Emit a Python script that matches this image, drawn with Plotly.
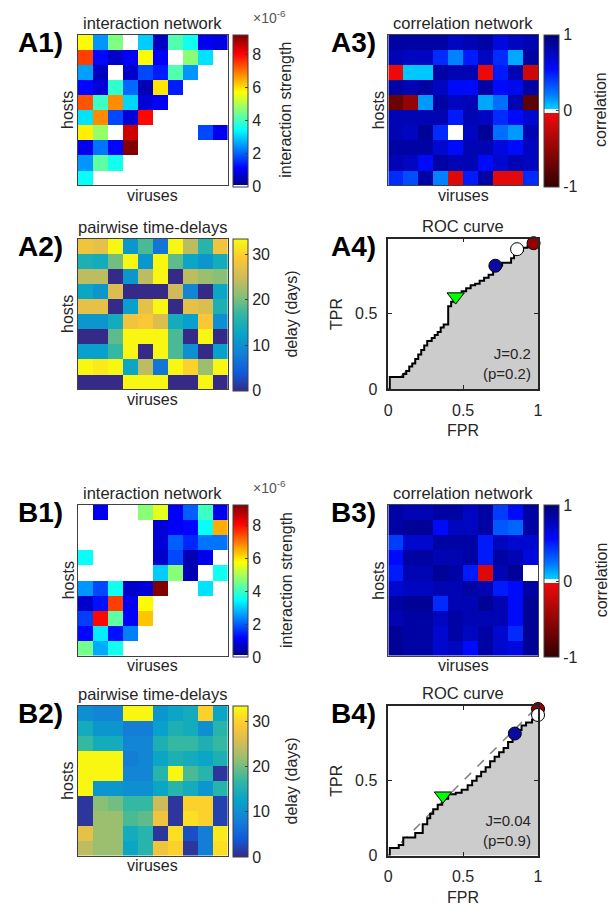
import plotly.graph_objects as go

W, H = 613, 918

# ---------------- data ----------------
A1_interaction = [  # x 1e-6, 0 = no interaction
    [5.8, 2.5, 4.6, 0, 3.0, 0.6, 4.2, 3.6, 1.0, 0.9],
    [7.5, 1.2, 0.7, 1.1, 5.8, 1.1, 0, 4.7, 3.2, 0],
    [2.6, 0.6, 0, 0.7, 1.8, 1.4, 4.2, 2.5, 0, 0],
    [1.2, 0.8, 3.9, 2.1, 0.5, 6.0, 1.4, 0, 0, 0],
    [7.3, 4.0, 6.8, 3.1, 0.8, 1.1, 0, 0, 0, 0],
    [3.2, 6.8, 1.8, 0.8, 8.0, 0, 0, 0, 0, 0],
    [5.9, 4.8, 0, 8.5, 0, 0, 0, 0, 1.8, 1.0],
    [1.0, 2.2, 1.2, 9.2, 0, 0, 0, 0, 0, 0],
    [2.5, 4.3, 3.6, 0, 0, 0, 0, 0, 0, 0],
    [3.5, 0, 0, 0, 0, 0, 0, 0, 0, 0],
]
A2_delay = [
    [28, 27, 33, 11, 18, 7, 33, 24, 16, 28],
    [15, 14, 20, 33, 11, 33, 19, 13, 11, 14],
    [24, 24, 0, 11, 24, 33, 0, 24, 22, 21],
    [13, 11, 26, 0, 0, 0, 25, 9, 0, 13],
    [27, 27, 0, 12, 27, 33, 0, 27, 26, 15],
    [11, 11, 14, 28, 29, 26, 14, 12, 29, 10],
    [0, 0, 19, 33, 33, 33, 18, 0, 33, 0],
    [12, 12, 17, 33, 0, 33, 18, 10, 0, 12],
    [33, 32, 33, 13, 24, 7, 33, 30, 22, 33],
    [0, 0, 0, 33, 33, 33, 0, 0, 33, 0],
]
A3_corr = [
    [0.85, 0.85, 0.85, 0.85, 0.75, 0.8, 0.85, 0.65, 0.75, 0.8],
    [0.8, 0.75, 0.75, 0.45, 0.2, 0.5, 0.75, 0.45, 0.12, 0.85],
    [-0.05, 0.05, 0.05, 0.85, 0.8, 0.8, -0.05, 0.5, 0.8, -0.2],
    [0.85, 0.8, 0.85, 0.75, 0.55, 0.55, 0.85, 0.55, 0.6, 0.85],
    [-0.7, -0.5, 0.15, 0.85, 0.75, 0.8, 0.12, 0.25, 0.8, -0.78],
    [0.8, 0.8, 0.8, 0.8, 0.5, 0.8, 0.75, 0.45, 0.55, 0.7],
    [0.8, 0.75, 0.9, 0.45, 0.0, 0.75, 0.9, 0.25, 0.15, 0.8],
    [0.85, 0.85, 0.85, 0.7, 0.55, 0.8, 0.8, 0.65, 0.55, 0.75],
    [0.8, 0.75, 0.55, 0.85, 0.8, 0.8, 0.55, 0.7, 0.8, 0.75],
    [0.45, 0.35, 0.85, 0.2, -0.12, 0.5, 0.85, -0.08, -0.08, 0.45],
]
B1_interaction = [
    [0, 1.0, 0, 0, 4.7, 5.5, 1.1, 2.0, 4.0, 1.0],
    [0, 0, 0, 0, 0, 0.8, 1.1, 1.2, 3.5, 6.5],
    [0, 0, 0, 0, 0, 0.8, 2.0, 1.5, 2.2, 2.2],
    [3.5, 0, 0, 0, 0, 0.7, 1.8, 0.5, 1.0, 0],
    [0, 0, 0, 0, 0, 3.0, 4.7, 0.5, 0, 3.6],
    [2.5, 1.8, 3.6, 0.7, 0.8, 9.2, 0, 0, 3.2, 0],
    [0.7, 1.3, 7.5, 1.1, 5.8, 0, 0, 0, 0, 0],
    [1.7, 8.0, 4.3, 1.1, 6.3, 0, 0, 0, 0, 0],
    [1.2, 3.3, 1.3, 2.3, 0, 0, 0, 0, 0, 0],
    [4.5, 2.7, 3.6, 0, 0, 0, 0, 0, 0, 0],
]
B2_delay = [
    [10, 9, 9, 33, 33, 11, 13, 14, 30, 13],
    [14, 11, 11, 8, 8, 12, 15, 14, 10, 16],
    [17, 14, 14, 9, 9, 15, 17, 17, 15, 17],
    [33, 33, 33, 8, 9, 13, 15, 14, 13, 15],
    [33, 33, 33, 9, 9, 16, 33, 18, 16, 1],
    [33, 11, 11, 10, 10, 13, 16, 14, 11, 16],
    [1, 21, 20, 17, 17, 25, 1, 30, 30, 2],
    [1, 22, 22, 18, 19, 28, 1, 31, 30, 2],
    [27, 22, 22, 14, 16, 1, 31, 3, 8, 32],
    [24, 22, 22, 13, 16, 28, 30, 1, 8, 31],
]
B3_corr = [
    [0.85, 0.8, 0.8, 0.85, 0.85, 0.75, 0.85, 0.4, 0.55, 0.85],
    [0.85, 0.9, 0.9, 0.55, 0.75, 0.75, 0.85, 0.32, 0.28, 0.85],
    [0.4, 0.7, 0.7, 0.85, 0.85, 0.85, 0.5, 0.75, 0.7, 0.7],
    [0.55, 0.85, 0.85, 0.8, 0.8, 0.85, 0.5, 0.85, 0.8, 0.65],
    [0.5, 0.8, 0.8, 0.9, 0.85, 0.5, -0.12, 0.8, 0.9, 0.0],
    [0.7, 0.75, 0.75, 0.8, 0.8, 0.85, 0.8, 0.5, 0.55, 0.85],
    [0.85, 0.9, 0.9, 0.45, 0.8, 0.8, 0.9, 0.8, 0.55, 0.9],
    [0.8, 0.85, 0.85, 0.75, 0.85, 0.8, 0.8, 0.8, 0.55, 0.9],
    [0.9, 0.85, 0.85, 0.7, 0.85, 0.75, 0.85, 0.7, 0.45, 0.9],
    [0.9, 0.85, 0.85, 0.7, 0.75, 0.55, 0.85, 0.7, 0.65, 0.9],
]

A4_fpr = [0, 0.01, 0.10, 0.12, 0.14, 0.16, 0.18, 0.20, 0.22, 0.24, 0.26, 0.29, 0.31, 0.33, 0.35,
          0.37, 0.40, 0.42, 0.44, 0.46, 0.49, 0.52, 0.55, 0.58, 0.61, 0.64, 0.67, 0.70, 0.73, 0.76,
          0.80, 0.82, 0.84, 0.87, 0.90, 0.93, 0.96, 1.0]
A4_tpr = [0, 0.08, 0.10, 0.12, 0.15, 0.17, 0.20, 0.23, 0.26, 0.29, 0.32, 0.34, 0.36, 0.38, 0.41,
          0.43, 0.55, 0.58, 0.61, 0.63, 0.65, 0.67, 0.69, 0.70, 0.72, 0.74, 0.76, 0.79, 0.82, 0.84,
          0.84, 0.87, 0.90, 0.92, 0.94, 0.95, 0.97, 1.0]
B4_fpr = [0, 0.01, 0.07, 0.10, 0.18, 0.23, 0.26, 0.28, 0.30, 0.33, 0.36, 0.40, 0.45, 0.49, 0.53,
          0.56, 0.59, 0.62, 0.65, 0.68, 0.71, 0.74, 0.77, 0.80, 0.83, 0.86, 0.89, 0.92, 0.96, 0.99, 1.0]
B4_tpr = [0, 0.05, 0.07, 0.12, 0.15, 0.21, 0.25, 0.28, 0.31, 0.34, 0.38, 0.41, 0.42, 0.44, 0.47,
          0.50, 0.53, 0.56, 0.59, 0.63, 0.66, 0.69, 0.72, 0.76, 0.80, 0.84, 0.87, 0.89, 0.91, 0.94, 1.0]

# markers: (fpr, tpr) for green triangle, blue, white, red
A4_markers = {"green": (0.45, 0.615), "blue": (0.715, 0.82), "white": (0.86, 0.93), "red": (0.97, 0.97)}
B4_markers = {"green": (0.365, 0.40), "blue": (0.845, 0.816), "white": (1.0, 0.94), "red": (1.0, 0.98)}
A4_stats = ["J=0.2", "(p=0.2)"]
B4_stats = ["J=0.04", "(p=0.9)"]

interaction_ticks = [0, 2, 4, 6, 8]
delay_ticks = [0, 10, 20, 30]
corr_ticks = [-1, 0, 1]
roc_xticks = [0, 0.5, 1]
roc_yticks = [0, 0.5]

# ---------------- styling ----------------
FONT = "Liberation Sans, Arial, Helvetica, sans-serif"
TXT = "#262626"

jet_white = [[0, "rgb(255,255,255)"], [0.0156, "rgb(255,255,255)"], [0.0156, "rgb(0,0,140)"],
             [0.125, "rgb(0,0,255)"], [0.375, "rgb(0,255,255)"], [0.625, "rgb(255,255,0)"],
             [0.875, "rgb(255,0,0)"], [1, "rgb(128,0,0)"]]
parula = ['#352a87', '#0f5cdd', '#1481d6', '#06a4ca', '#2eb7a4', '#87bf77', '#d1bb59', '#fec832', '#f9fb0e']
parula_cs = [[i / 8, c] for i, c in enumerate(parula)]
corr_cs = [[0, "rgb(50,0,0)"], [0.49, "rgb(240,10,10)"], [0.49, "rgb(255,255,255)"],
           [0.51, "rgb(255,255,255)"], [0.51, "rgb(0,205,255)"], [0.525, "rgb(0,200,255)"],
           [0.61, "rgb(0,120,255)"], [0.775, "rgb(0,10,250)"], [1, "rgb(0,0,120)"]]

def fx(px):
    return px / W

def fy(py):
    return 1 - py / H

# panel boxes in pixels: x0, y0, x1, y1
boxes = {
    "A1": (75, 35, 227, 187), "A2": (75, 241, 227, 393),
    "A3": (390, 35, 542, 187), "A4": (390, 241, 542, 393),
    "B1": (75, 510, 227, 662), "B2": (75, 713, 227, 864),
    "B3": (390, 510, 542, 662), "B4": (390, 713, 542, 864),
}
axis_id = {"A1": "", "A2": "2", "A3": "3", "A4": "4", "B1": "5", "B2": "6", "B3": "7", "B4": "8"}

fig = go.Figure()
annotations = []
layout = dict(width=W, height=H, margin=dict(l=0, r=0, t=0, b=0),
              paper_bgcolor="white", plot_bgcolor="white", showlegend=False,
              font=dict(family=FONT, size=16, color=TXT))

def ann(text, x, y, size=16, angle=0, xanchor="center", yanchor="middle", color=TXT, align="center"):
    annotations.append(dict(text=text, x=fx(x), y=fy(y), xref="paper", yref="paper",
                            showarrow=False, textangle=angle, xanchor=xanchor, yanchor=yanchor,
                            align=align, font=dict(family=FONT, size=size, color=color)))

def heat(name, z, cs, zmax, zmin, ticks, ticktext, cb_x, title, cb_label, cb_label_x):
    x0, y0, x1, y1 = boxes[name]
    aid = axis_id[name]
    fig.add_trace(go.Heatmap(
        z=z, x=list(range(10)), y=list(range(10)), colorscale=cs, zmin=zmin, zmax=zmax,
        xaxis="x" + aid, yaxis="y" + aid, hoverinfo="skip",
        colorbar=dict(x=fx(cb_x), xanchor="left", y=fy(y0), yanchor="top",
                      len=y1 - y0, lenmode="pixels", thickness=15, thicknessmode="pixels",
                      xpad=0, ypad=0, outlinewidth=1, outlinecolor="#404040",
                      tickvals=ticks, ticktext=ticktext, ticks="inside", ticklen=3,
                      tickcolor="#404040", tickfont=dict(family=FONT, size=16, color=TXT))))
    layout["xaxis" + aid] = dict(domain=[fx(x0), fx(x1)], anchor="y" + aid, range=[-0.5, 9.5],
                                 showticklabels=False, ticks="", showgrid=False, zeroline=False,
                                 showline=True, mirror=True, linecolor="#404040", linewidth=1)
    layout["yaxis" + aid] = dict(domain=[fy(y1), fy(y0)], anchor="x" + aid, range=[9.5, -0.5],
                                 showticklabels=False, ticks="", showgrid=False, zeroline=False,
                                 showline=True, mirror=True, linecolor="#404040", linewidth=1)
    ann(title, (x0 + x1) / 2, y0 - 12, size=16.5)
    ann("hosts", x0 - 10, (y0 + y1) / 2, angle=-90)
    ann("viruses", (x0 + x1) / 2, y1 + 10)
    ann(cb_label, cb_label_x, (y0 + y1) / 2, angle=-90)

def roc(name, fpr, tpr, markers, stats):
    x0, y0, x1, y1 = boxes[name]
    aid = axis_id[name]
    xa, ya = "x" + aid, "y" + aid
    fig.add_trace(go.Scatter(x=[0, 1], y=[0, 1], mode="lines", xaxis=xa, yaxis=ya,
                             line=dict(color="#808080", width=1.5, dash="dash"), hoverinfo="skip"))
    fig.add_trace(go.Scatter(x=fpr, y=tpr, mode="lines", xaxis=xa, yaxis=ya, fill="tozeroy",
                             fillcolor="rgb(204,204,204)", line=dict(color="black", width=2, shape="hv"),
                             hoverinfo="skip"))
    styles = [("red", "circle", "rgb(150,0,0)", 13), ("white", "circle", "white", 13),
              ("blue", "circle", "rgb(10,10,160)", 13), ("green", "triangle-down", "rgb(0,255,0)", 15)]
    for key, sym, col, sz in styles:
        mx, my = markers[key]
        fig.add_trace(go.Scatter(x=[mx], y=[my], mode="markers", xaxis=xa, yaxis=ya, cliponaxis=False,
                                 marker=dict(symbol=sym, color=col, size=sz,
                                             line=dict(color="black", width=1)), hoverinfo="skip"))
    common = dict(showgrid=False, zeroline=False, showline=True, mirror="ticks", linecolor="#262626",
                  linewidth=1.5, ticks="inside", ticklen=4, tickcolor="#262626",
                  tickfont=dict(family=FONT, size=16, color=TXT))
    layout["xaxis" + aid] = dict(domain=[fx(x0), fx(x1)], anchor=ya, range=[0, 1],
                                 tickvals=roc_xticks, ticktext=["0", "0.5", "1"],
                                 ticklabelstandoff=6, **common)
    layout["yaxis" + aid] = dict(domain=[fy(y1), fy(y0)], anchor=xa, range=[0, 1],
                                 tickvals=roc_yticks, ticktext=["0", "0.5"],
                                 ticklabelstandoff=6, **common)
    ann("ROC curve", (x0 + x1) / 2, y0 - 13, size=16.5)
    ann("TPR", x0 - 52, (y0 + y1) / 2, angle=-90)
    ann("FPR", (x0 + x1) / 2, y1 + 42)
    ann(stats[0] + "<br>" + stats[1], x1 - 5, y1 - 5, size=15, xanchor="right", yanchor="bottom",
        align="right")

int_text = [str(v) for v in interaction_ticks]
del_text = [str(v) for v in delay_ticks]
cor_text = [str(v) for v in corr_ticks]

heat("A1", A1_interaction, jet_white, 9.22, 0, interaction_ticks, int_text, 232,
     "interaction network", "interaction strength", 286)
heat("A2", A2_delay, parula_cs, 33.4, 0, delay_ticks, del_text, 232,
     "pairwise time-delays", "delay (days)", 292)
heat("A3", A3_corr, corr_cs, 1, -1, corr_ticks, cor_text, 548,
     "correlation network", "correlation", 606)
roc("A4", A4_fpr, A4_tpr, A4_markers, A4_stats)
heat("B1", B1_interaction, jet_white, 9.22, 0, interaction_ticks, int_text, 232,
     "interaction network", "interaction strength", 286)
heat("B2", B2_delay, parula_cs, 33.4, 0, delay_ticks, del_text, 232,
     "pairwise time-delays", "delay (days)", 292)
heat("B3", B3_corr, corr_cs, 1, -1, corr_ticks, cor_text, 548,
     "correlation network", "correlation", 606)
roc("B4", B4_fpr, B4_tpr, B4_markers, B4_stats)

# x10^-6 multipliers
for nm in ["A1", "B1"]:
    ann("×10<sup>-6</sup>", 251, boxes[nm][1] - 18, size=14, xanchor="left", color="#555555")

# panel labels
for nm in boxes:
    x0, y0, _, _ = boxes[nm]
    lx = 12 if x0 < 300 else 330
    ann("<b>" + nm + ")</b>", lx, y0 + 8, size=28, xanchor="left", color="black")

layout["annotations"] = annotations
fig.update_layout(**layout)
fig.write_html("out.html")
